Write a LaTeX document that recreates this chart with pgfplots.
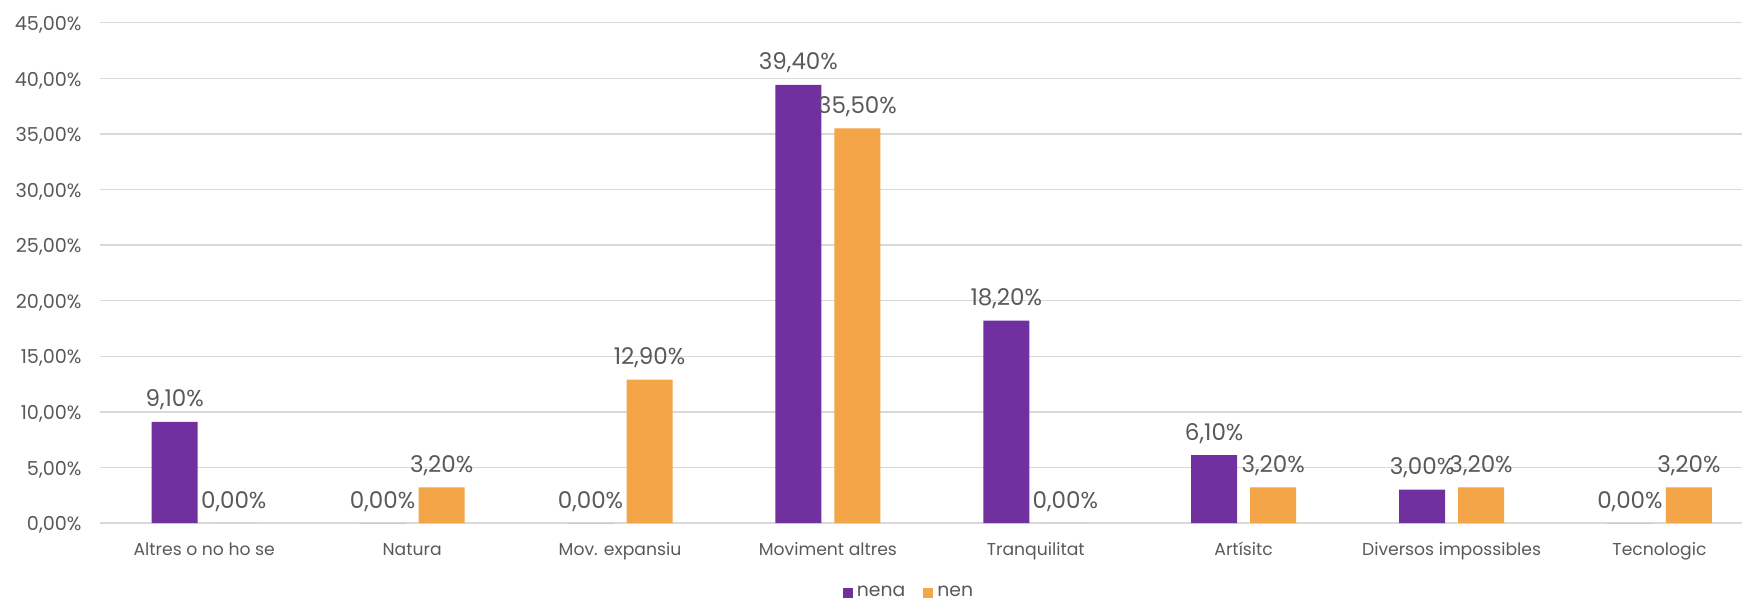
\documentclass[border=0pt]{standalone}
\usepackage{pgfplots}
\pgfplotsset{compat=1.18}
\usepackage{fontspec}
\setmainfont{Poppins}
\definecolor{nena}{HTML}{7030A0}
\definecolor{nen}{HTML}{F3A548}
\definecolor{txt}{HTML}{595959}
\definecolor{grd}{HTML}{D9D9D9}
\begin{document}
\begin{tikzpicture}
\useasboundingbox (0,0) rectangle (871pt,301pt);
\begin{axis}[
  at={(50.15pt,39.5pt)}, anchor=south west,
  scale only axis, width=820.85pt, height=250.15pt,
  xmin=-0.5, xmax=7.397, ymin=0, ymax=45,
  ybar=6.5pt, bar width=23pt,
  /pgf/number format/assume math mode=true,
  axis lines*=left, axis line style={draw=none},
  major tick length=0pt,
  ymajorgrids, grid style={draw=grd, line width=0.7pt},
  xtick={0,...,7},
  xticklabels={Altres o no ho se, Natura, Mov. expansiu, Moviment altres, Tranquilitat, Artísitc, Diversos impossibles, Tecnologic},
  xticklabel style={anchor=base, inner sep=0pt, yshift=-16pt, font=\fontsize{8.6}{10}\selectfont, text=txt},
  ytick={0,5,...,45},
  yticklabel={\pgfmathprintnumber[fixed,fixed zerofill,precision=2,use comma]{\tick}\%},
  yticklabel style={anchor=base east, inner sep=0pt, xshift=-9.2pt, yshift=-3.85pt, font=\fontsize{9.6}{11}\selectfont, text=txt},
  nodes near coords={\pgfmathprintnumber[fixed,fixed zerofill,precision=2,use comma]{\pgfplotspointmeta}\%},
  every node near coord/.append style={anchor=base, inner sep=0pt, yshift=7.5pt, font=\fontsize{11.5}{13}\selectfont, text=txt},
  legend image code/.code={\fill[#1] (0pt,-2.5pt) rectangle (5pt,2.5pt);},
  legend style={at={(0.4932,-0.14)}, anchor=center, draw=none, fill=none, legend columns=-1,
    font=\fontsize{9.4}{11}\selectfont, text=txt, inner sep=0pt,
    /tikz/every even column/.append style={column sep=7pt}},
]
\addplot[fill=nena, draw=none] coordinates {(0,9.1) (1,0) (2,0) (3,39.4) (4,18.2) (5,6.1) (6,3.0) (7,0)};
\addplot[fill=nen, draw=none] coordinates {(0,0) (1,3.2) (2,12.9) (3,35.5) (4,0) (5,3.2) (6,3.2) (7,3.2)};
\legend{nena, nen}
\end{axis}
\end{tikzpicture}
\end{document}
